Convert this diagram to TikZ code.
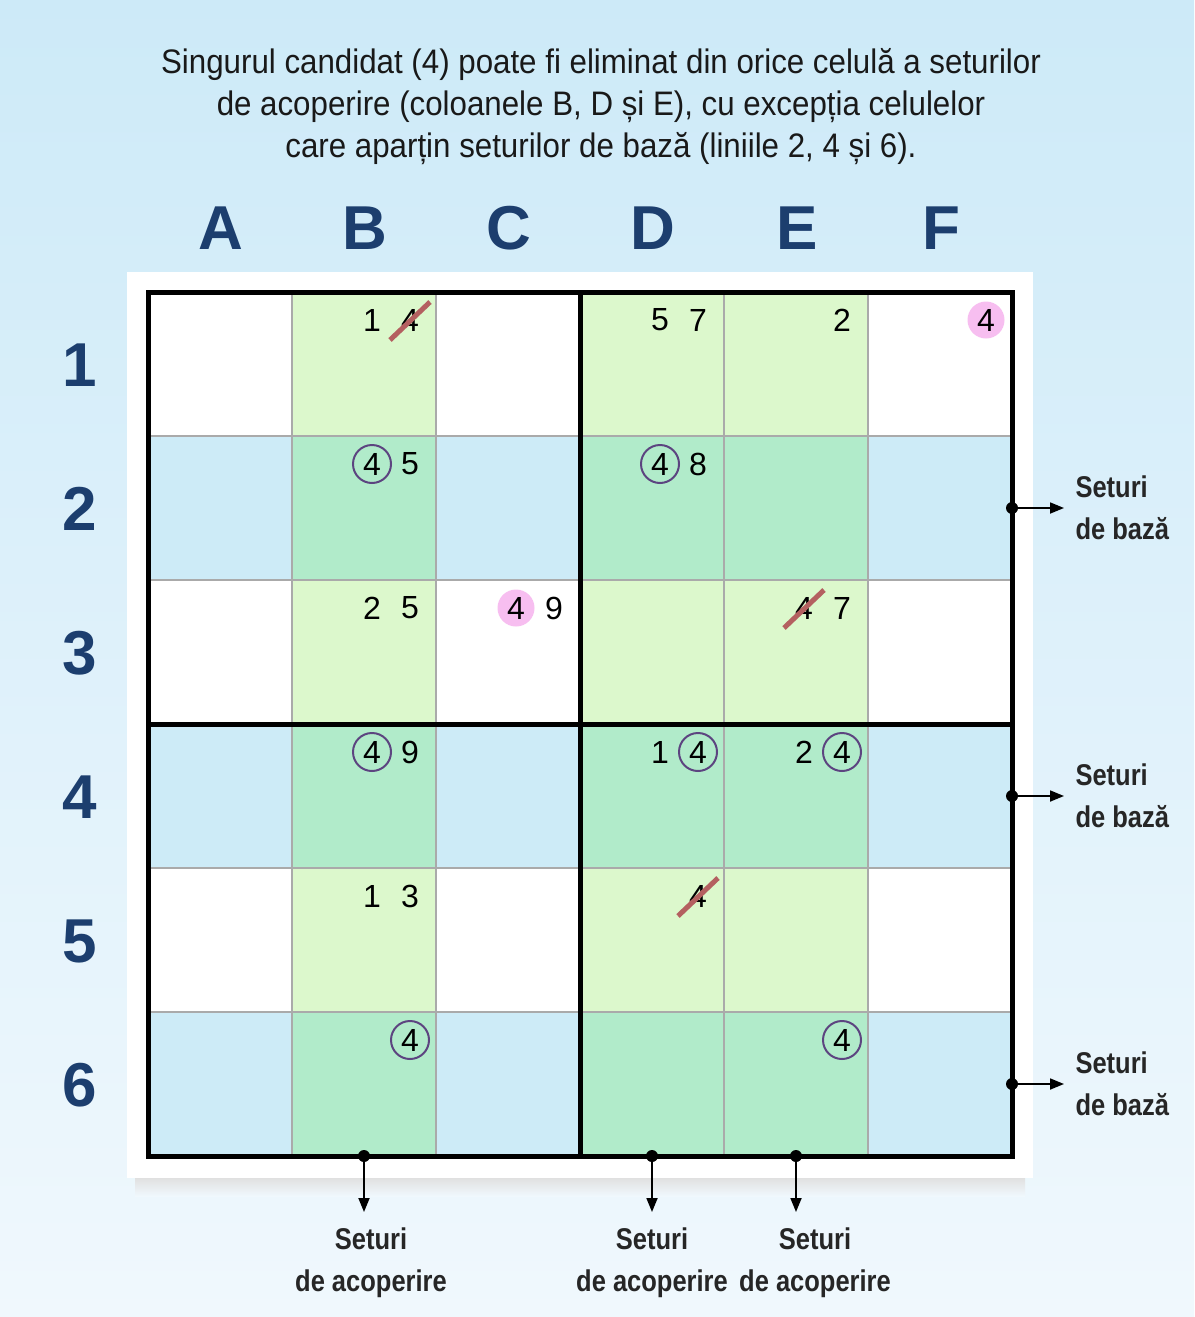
\documentclass[tikz,border=0pt]{standalone}
\usepackage{fontspec}
\setmainfont{Liberation Sans}
\newfontfamily\narrowfont[FakeStretch=0.92]{Liberation Sans}
\newfontfamily\labelfont[FakeStretch=0.85]{Liberation Sans}
\usetikzlibrary{arrows.meta}
\definecolor{bgtop}{RGB}{205,234,248}
\definecolor{bgbottom}{RGB}{240,248,253}
\definecolor{labelblue}{RGB}{28,62,110}
\definecolor{rowblue}{RGB}{205,235,247}
\definecolor{colgreen}{RGB}{220,248,204}
\definecolor{mint}{RGB}{177,235,202}
\definecolor{gridgray}{RGB}{170,170,170}
\definecolor{ringc}{RGB}{92,68,128}
\definecolor{pinkc}{RGB}{247,190,240}
\definecolor{strikec}{RGB}{180,96,96}
\begin{document}
\begin{tikzpicture}[x=1pt,y=-1pt,
  cand/.style={font=\fontsize{32}{32}\selectfont,inner sep=0pt},
  ring/.style={cand,circle,draw=ringc,line width=2pt,minimum size=38pt},
  pinkdot/.style={cand,circle,fill=pinkc,minimum size=37pt},
  strike/.style={draw=strikec,line width=5pt},
  heading/.style={font=\bfseries\fontsize{62}{62}\selectfont,text=labelblue},
  setlabel/.style={font=\labelfont\bfseries\fontsize{30}{42}\selectfont,text=black!85},
  setarrow/.style={-{Triangle[length=14pt,width=11pt]},line width=1.8pt}]
\useasboundingbox (0,0) rectangle (1194,1317);
\shade[top color=bgtop,bottom color=bgbottom] (0,0) rectangle (1194,1317);
% Text oben
\node[align=center,font=\narrowfont\fontsize{34}{42}\selectfont,text=black!90] (titel) at (601,107)
  {Singurul candidat (4) poate fi eliminat din orice celulă a seturilor\\
   de acoperire (coloanele B, D și E), cu excepția celulelor\\
   care aparțin seturilor de bază (liniile 2, 4 și 6).};
% Spalten und Zeilen
\foreach \l [count=\i from 0] in {A,B,C,D,E,F}
  \node[heading] (col\l) at ({221+144*\i},228) {\l};
\foreach \i in {1,...,6}
  \node[heading] (row\i) at (80,{221+144*\i}) {\i};
% Rahmen
\shade[top color=black!12,bottom color=bgbottom] (135,1178) rectangle (1025,1196);
\fill[white] (127,272) rectangle (1033,1178);
\foreach \r in {1,3,5}
  \fill[rowblue] (148,{292+144*\r}) rectangle ++(864,144); % Basis-Zeilen
\foreach \c in {1,3,4}
  \fill[colgreen] ({148+144*\c},292) rectangle ++(144,864); % Deckungs-Spalten
\foreach \c in {1,3,4}
  \foreach \r in {1,3,5}
    \fill[mint] ({148+144*\c},{292+144*\r}) rectangle ++(144,144);
\foreach \i in {1,...,5} {
  \draw[gridgray,line width=1.5pt] ({148+144*\i},292) -- ++(0,864);
  \draw[gridgray,line width=1.5pt] (148,{292+144*\i}) -- ++(864,0);
}
\draw[line width=5pt] (580,292) -- (580,1156);
\draw[line width=5pt] (148,724) -- (1012,724);
\draw[line width=5pt] (148,292) rectangle (1012,1156);
% Kandidaten
\node[cand] (b1a) at (372,320) {1};
\node[cand] (b1b) at (410,320) {4};
\draw[strike] (390,340) -- (430,302); % gestrichen
\node[cand] (d1a) at (660,320) {5};
\node[cand] (d1b) at (698,320) {7};
\node[cand] (e1a) at (842,320) {2};
\node[pinkdot] (f1a) at (986,320) {4};
\node[ring] (b2a) at (372,464) {4};
\node[cand] (b2b) at (410,464) {5};
\node[ring] (d2a) at (660,464) {4};
\node[cand] (d2b) at (698,464) {8};
\node[cand] (b3a) at (372,608) {2};
\node[cand] (b3b) at (410,608) {5};
\node[pinkdot] (c3a) at (516,608) {4};
\node[cand] (c3b) at (554,608) {9};
\node[cand] (e3a) at (804,608) {4};
\draw[strike] (784,628) -- (824,590); % gestrichen
\node[cand] (e3b) at (842,608) {7};
\node[ring] (b4a) at (372,752) {4};
\node[cand] (b4b) at (410,752) {9};
\node[cand] (d4a) at (660,752) {1};
\node[ring] (d4b) at (698,752) {4};
\node[cand] (e4a) at (804,752) {2};
\node[ring] (e4b) at (842,752) {4};
\node[cand] (b5a) at (372,896) {1};
\node[cand] (b5b) at (410,896) {3};
\node[cand] (d5b) at (698,896) {4};
\draw[strike] (678,916) -- (718,878); % gestrichen
\node[ring] (b6b) at (410,1040) {4};
\node[ring] (e6b) at (842,1040) {4};
% Basis-Sets rechts
\foreach \r/\y in {2/508,4/796,6/1084} {
  \coordinate (base\r) at (1012,\y);
  \coordinate (base\r end) at (1064,\y);
  \fill (base\r) circle (6);
  \draw[setarrow] (base\r) -- (base\r end);
  \node[setlabel,anchor=west,align=left] (baselabel\r) at (1072,\y) {Seturi\\de bază};
}
% Deckungs-Sets unten
\foreach \c/\x/\lx in {B/364/371,D/652/652,E/796/815} {
  \coordinate (cover\c) at (\x,1156);
  \coordinate (cover\c end) at (\x,1212);
  \fill (cover\c) circle (6);
  \draw[setarrow] (cover\c) -- (cover\c end);
  \node[setlabel,align=center] (coverlabel\c) at (\lx,1263) {Seturi\\de acoperire};
}
\end{tikzpicture}
\end{document}
